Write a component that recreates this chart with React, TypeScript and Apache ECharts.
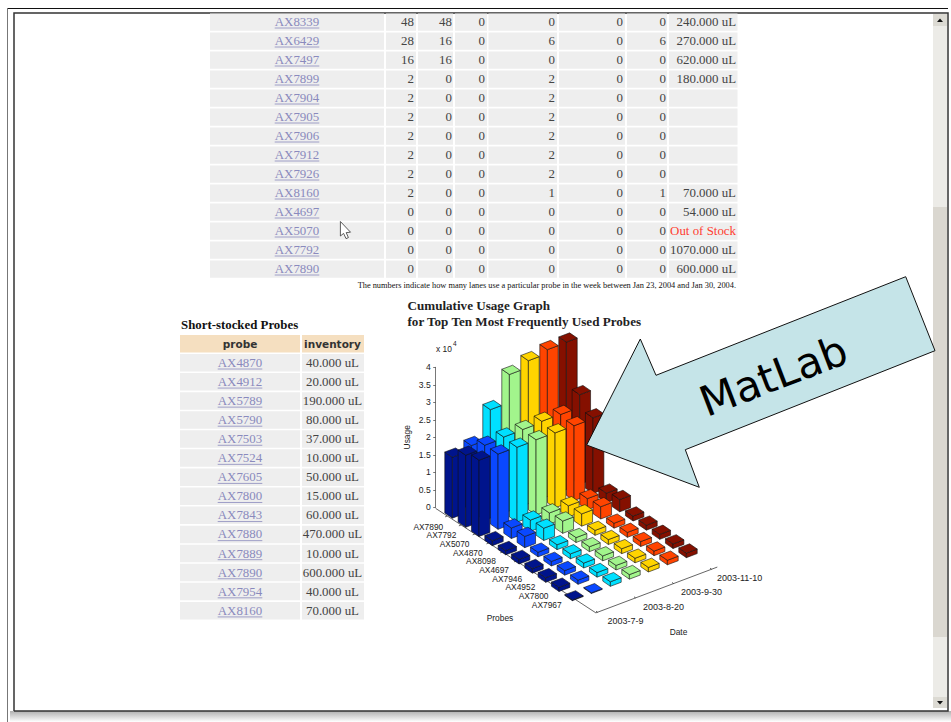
import React, { useEffect, useRef } from "react";
import * as echarts from "echarts";

// ---- top table ----
const topProbes = ["AX8339","AX6429","AX7497","AX7899","AX7904","AX7905","AX7906","AX7912","AX7926","AX8160","AX4697","AX5070","AX7792","AX7890"];
const topTotal = [48,28,16,2,2,2,2,2,2,2,0,0,0,0];
const topColA = [48,16,16,0,0,0,0,0,0,0,0,0,0,0];
const topColB = [0,0,0,0,0,0,0,0,0,0,0,0,0,0];
const topColC = [0,6,0,2,2,2,2,2,2,1,0,0,0,0];
const topColD = [0,0,0,0,0,0,0,0,0,0,0,0,0,0];
const topColE = [0,6,0,0,0,0,0,0,0,1,0,0,0,0];
const topInventory = ["240.000 uL","270.000 uL","620.000 uL","180.000 uL","","","","","","70.000 uL","54.000 uL","Out of Stock","1070.000 uL","600.000 uL"];
const footnote = "The numbers indicate how many lanes use a particular probe in the week between Jan 23, 2004 and Jan 30, 2004.";

// ---- short-stocked table ----
const shortProbes = ["AX4870","AX4912","AX5789","AX5790","AX7503","AX7524","AX7605","AX7800","AX7843","AX7880","AX7889","AX7890","AX7954","AX8160"];
const shortInventory = ["40.000 uL","20.000 uL","190.000 uL","80.000 uL","37.000 uL","10.000 uL","50.000 uL","15.000 uL","60.000 uL","470.000 uL","10.000 uL","600.000 uL","40.000 uL","70.000 uL"];

// ---- 3D bar chart (usage, x 10^4) ----
const chartProbes = ["AX7890","AX7792","AX5070","AX4870","AX8098","AX4697","AX7946","AX4952","AX7800","AX7967"];
const dateTicks = ["2003-7-9","2003-8-20","2003-9-30","2003-11-10"];
const usageBin0 = [1.74,2.06,2.18,0.14,0.12,0.13,0.13,0.13,0.12,0.02];
const usageBin1 = [1.87,2.14,2.15,0.30,0.32,0.13,0.13,0.13,0.12,0.02];
const usageBin2 = [2.69,2.17,2.14,0.32,0.35,0.14,0.14,0.14,0.13,0.13];
const usageBin3 = [3.49,2.18,2.15,0.32,0.35,0.14,0.14,0.14,0.13,0.13];
const usageBin4 = [3.68,2.21,2.14,0.32,0.35,0.14,0.14,0.14,0.13,0.13];
const usageBin5 = [3.79,2.20,2.14,0.32,0.35,0.14,0.14,0.14,0.13,0.13];
const usageBin6 = [3.80,2.56,2.16,0.27,0.35,0.14,0.14,0.14,0.13,0.13];
const usageBins = [usageBin0,usageBin1,usageBin2,usageBin3,usageBin4,usageBin5,usageBin6];
const binColors = ["#00148c","#0a48ff","#00e0ff","#a2f58c","#ffd400","#ff4400","#851000"];

const SERIF = '"Liberation Serif", serif';
const SANS = '"Liberation Sans", sans-serif';
const TXT = "#444";
const LINK = "#8a8abd";

// oblique projection onto the hidden grid
const KX = 57 / 40, PY = 27.5 / 105, DY = 21.5 / 105, HALF = 0.285;
const proj = (api: any, p: number, d: number, v: number) => api.coord([p + d * KX, v - p * PY + d * DY]);

function renderBar(_: any, api: any) {
  const p = api.value(0), d = api.value(1), v = api.value(2);
  const color = binColors[d];
  const p0 = p - HALF, p1 = p + HALF, d0 = d - HALF, d1 = d + HALF;
  const poly = (pts: number[][]) => ({
    type: "polygon",
    shape: { points: pts },
    style: { fill: color, stroke: "#111", lineWidth: 0.6 },
  });
  return {
    type: "group",
    children: [
      poly([proj(api,p0,d0,0),proj(api,p1,d0,0),proj(api,p1,d0,v),proj(api,p0,d0,v)]),
      poly([proj(api,p1,d0,0),proj(api,p1,d1,0),proj(api,p1,d1,v),proj(api,p1,d0,v)]),
      poly([proj(api,p0,d0,v),proj(api,p1,d0,v),proj(api,p1,d1,v),proj(api,p0,d1,v)]),
    ],
  };
}

const AX_P = 10.77;
const axisDAt = (p: number) => -0.37 + ((p + 0.85) / 11.62) * 0.28;
const axisLine = { stroke: "#222", lineWidth: 0.7 };

function renderProbeTick(_: any, api: any) {
  const p = api.value(0);
  const dA = axisDAt(p);
  const a = proj(api, p, dA, 0), b = proj(api, p, dA - 0.12, 0), o = proj(api, p, 0, 0);
  const children: any[] = [
    { type: "line", shape: { x1: a[0], y1: a[1], x2: b[0], y2: b[1] }, style: axisLine },
    { type: "text", style: { text: chartProbes[p], x: o[0] - 25.7 - p * 0.17, y: o[1] + 13.2 - p * 0.5, font: "8.4px " + SANS, fill: "#222", align: "center", verticalAlign: "middle" } },
  ];
  return { type: "group", children };
}

function renderDateTick(_: any, api: any) {
  const i = api.value(0), d = i * 2;
  const a = proj(api, AX_P, d, 0), b = proj(api, AX_P - 0.12, d, 0);
  return {
    type: "group",
    children: [
      { type: "line", shape: { x1: a[0], y1: a[1], x2: b[0], y2: b[1] }, style: axisLine },
      { type: "text", style: { text: dateTicks[i], x: a[0] + 28, y: a[1] + 8.7, font: "9px " + SANS, fill: "#222", align: "center", verticalAlign: "middle" } },
    ],
  };
}

function renderFloorAxes(_: any, api: any) {
  const a = proj(api, -0.85, -0.37, 0), b = proj(api, AX_P, -0.09, 0), c = proj(api, AX_P, 6.3, 0);
  return { type: "polyline", shape: { points: [a, b, c] }, style: { ...axisLine, fill: "none" } };
}

function cell(x: number, y: number, w: number, h: number, fill: string) {
  return { type: "rect", shape: { x, y, width: w, height: h }, style: { fill } };
}
function text(t: string, x: number, y: number, font: string, fill: string, align = "left") {
  return { type: "text", style: { text: t, x, y, font, fill, align, verticalAlign: "middle" } };
}
function link(t: string, cx: number, y: number) {
  return [
    text(t, cx, y - 0.2, "12.9px " + SERIF, LINK, "center"),
    { type: "line", shape: { x1: cx - 22.3, y1: y + 6, x2: cx + 22.3, y2: y + 6 }, style: { stroke: LINK, lineWidth: 0.8 } },
  ];
}

function buildPage() {
  const els: any[] = [];
  // window frame
  els.push({ type: "rect", shape: { x: 10, y: 711, width: 941, height: 11 }, style: { fill: new echarts.graphic.LinearGradient(0, 0, 0, 1, [{ offset: 0, color: "#b0b0b0" }, { offset: 1, color: "#ffffff" }]) } });
  els.push({ type: "line", shape: { x1: 7, y1: 8.5, x2: 948, y2: 8.5 }, style: { stroke: "#111", lineWidth: 1 } });
  els.push({ type: "line", shape: { x1: 7.5, y1: 8, x2: 7.5, y2: 722 }, style: { stroke: "#777", lineWidth: 1 } });
  els.push({ type: "polyline", shape: { points: [[14, 711], [14, 13], [948, 13], [948, 711], [14, 711]] }, style: { stroke: "#333", lineWidth: 1.5, fill: "none" } });
  // scrollbar
  els.push(cell(933, 14, 14, 694, "#ecebe7"));
  els.push(cell(933, 207, 14, 430, "#dad7d0"));
  els.push(cell(933, 14, 14, 12, "#dcdad3"));
  els.push(cell(933, 697, 14, 11, "#dcdad3"));
  els.push({ type: "polygon", shape: { points: [[937, 22], [943, 22], [940, 18.5]] }, style: { fill: "#111" } });
  els.push({ type: "polygon", shape: { points: [[937, 701], [943, 701], [940, 704.5]] }, style: { fill: "#111" } });

  // top table
  const cols: [number, number][] = [[210,384],[386,416],[418,453],[455,487],[488.5,557],[559,625],[627,667],[669,737.5]];
  const nums = [topTotal, topColA, topColB, topColC, topColD, topColE];
  const rights = [414, 452, 485, 555, 623, 666];
  topProbes.forEach((probe, r) => {
    const cy = 22 + r * 19;
    cols.forEach(([a, b]) => els.push(cell(a, cy - 8.5, b - a, 17.3, "#eeeeee")));
    els.push(...link(probe, 297, cy));
    nums.forEach((col, c) => els.push(text(String(col[r]), rights[c], cy - 0.2, "12.9px " + SERIF, TXT, "right")));
    const inv = topInventory[r];
    if (inv) els.push(text(inv, 736, cy - 0.2, "12.9px " + SERIF, inv === "Out of Stock" ? "#ff4030" : TXT, "right"));
  });
  els.push(text(footnote, 736, 285.6, "8.36px " + SERIF, "#111", "right"));

  // cursor
  els.push({ type: "polygon", shape: { points: [[340.4,221.5],[340.4,236],[343.6,233.4],[346,238.6],[348.4,237.6],[346.2,232.6],[350.5,232.2]] }, style: { fill: "#fff", stroke: "#333", lineWidth: 0.8 } });

  // short-stocked table
  els.push(text("Short-stocked Probes", 181, 325, "bold 12.85px " + SERIF, "#111"));
  els.push(cell(180, 335, 120, 17.5, "#f5dfc0"), cell(302, 335, 62, 17.5, "#f5dfc0"));
  els.push(text("probe", 240, 344, 'bold 10.5px "DejaVu Sans"', "#333", "center"));
  els.push(text("inventory", 332.5, 344, 'bold 10.5px "DejaVu Sans"', "#333", "center"));
  shortProbes.forEach((probe, r) => {
    const cy = 363 + r * 19.07;
    els.push(cell(180, cy - 9, 120, 17.5, "#eeeeee"), cell(302, cy - 9, 62, 17.5, "#eeeeee"));
    els.push(...link(probe, 240, cy));
    els.push(text(shortInventory[r], 332.5, cy - 0.2, "12.9px " + SERIF, TXT, "center"));
  });

  // chart titles and loose labels
  els.push(text("Cumulative Usage Graph", 407.5, 305.5, "bold 13.1px " + SERIF, "#222"));
  els.push(text("for Top Ten Most Frequently Used Probes", 407.5, 321.5, "bold 13.1px " + SERIF, "#222"));
  els.push(text("x 10", 436, 349, "8.4px " + SANS, "#222"));
  els.push(text("4", 453, 343.5, "6.5px " + SANS, "#222"));
  els.push(text("Probes", 500, 617.5, "8.4px " + SANS, "#222", "center"));
  els.push(text("Date", 678.5, 632, "8.4px " + SANS, "#222", "center"));

  // callout
  els.push({ type: "polygon", z: 20, shape: { points: [[586.7,445],[640.3,339],[656,375.3],[905.7,276.7],[935,350.7],[685.3,449.7],[699.3,487.3]] }, style: { fill: "#c5e4e8", stroke: "#111", lineWidth: 1 } });
  els.push({ type: "text", z: 21, x: 773.5, y: 376, rotation: (21 * Math.PI) / 180, style: { text: "MatLab", x: 0, y: 0, font: '42px "DejaVu Sans"', fill: "#000", align: "center", verticalAlign: "middle" } });
  return els;
}

const barData: number[][] = [];
chartProbes.forEach((_, p) => {
  for (let d = usageBins.length - 1; d >= 0; d--) barData.push([p, d, usageBins[d][p]]);
});

const UNIT_X = 40 / 3;

export default function App() {
  const ref = useRef<HTMLDivElement>(null);
  useEffect(() => {
    const chart = echarts.init(ref.current!, null, { renderer: "svg" });
    const hidden = { show: false };
    chart.setOption({
      animation: false,
      backgroundColor: "#ffffff",
      graphic: { elements: buildPage() },
      grid: [
        { left: 435.7, top: 367.3, width: 1, height: 140 },
        { left: 454 - 2 * UNIT_X, top: 513.5 - 6 * 35, width: 28 * UNIT_X, height: 9 * 35 },
      ],
      xAxis: [
        { type: "value", gridIndex: 0, min: 0, max: 1, ...hidden },
        { type: "value", gridIndex: 1, min: -2, max: 26, ...hidden },
      ],
      yAxis: [
        {
          type: "value", gridIndex: 0, min: 0, max: 4, interval: 0.5,
          name: "Usage", nameLocation: "middle", nameGap: 25, nameRotate: 90,
          nameTextStyle: { fontFamily: "Liberation Sans", fontSize: 8.4, color: "#222" },
          axisLine: { show: true, lineStyle: { color: "#555", width: 0.8 } },
          axisTick: { show: true, length: 2.5, lineStyle: { color: "#555", width: 0.8 } },
          axisLabel: { fontFamily: "Liberation Sans", fontSize: 8.6, color: "#222", margin: 5 },
          splitLine: { show: false },
        },
        { type: "value", gridIndex: 1, min: -3, max: 6, ...hidden },
      ],
      series: [
        { type: "custom", xAxisIndex: 1, yAxisIndex: 1, coordinateSystem: "cartesian2d", clip: false, silent: true, data: [[0]], renderItem: renderFloorAxes },
        { type: "custom", xAxisIndex: 1, yAxisIndex: 1, coordinateSystem: "cartesian2d", clip: false, silent: true, data: chartProbes.map((_, i) => [i]), renderItem: renderProbeTick },
        { type: "custom", xAxisIndex: 1, yAxisIndex: 1, coordinateSystem: "cartesian2d", clip: false, silent: true, data: dateTicks.map((_, i) => [i]), renderItem: renderDateTick },
        { type: "custom", xAxisIndex: 1, yAxisIndex: 1, coordinateSystem: "cartesian2d", clip: false, silent: true, data: barData, renderItem: renderBar },
      ],
    });
    return () => chart.dispose();
  }, []);
  return <div ref={ref} style={{ position: "absolute", left: 0, top: 0, width: 951, height: 722 }} />;
}
